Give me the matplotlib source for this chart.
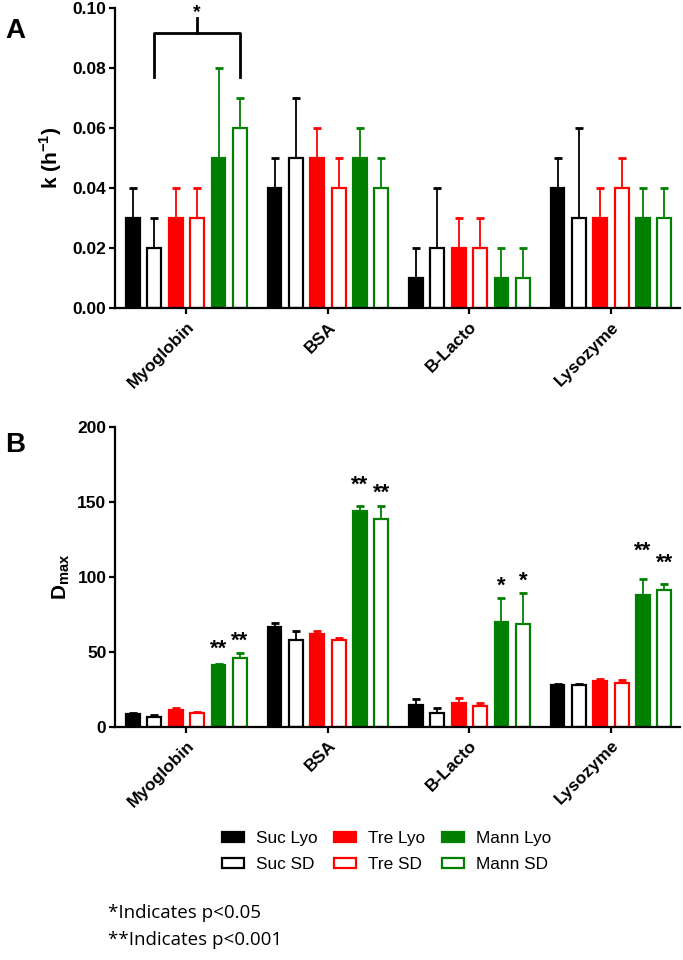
import matplotlib
matplotlib.use('Agg')
import matplotlib.pyplot as plt
from matplotlib.patches import Patch
import numpy as np

plt.rcParams['font.family'] = ['Liberation Sans Narrow', 'Liberation Sans', 'DejaVu Sans']
plt.rcParams['mathtext.fontset'] = 'custom'
plt.rcParams['mathtext.bf'] = 'Liberation Sans:bold'
plt.rcParams['mathtext.rm'] = 'Liberation Sans'

proteins = ['Myoglobin', 'BSA', 'B-Lacto', 'Lysozyme']
series = ['Suc Lyo', 'Suc SD', 'Tre Lyo', 'Tre SD', 'Mann Lyo', 'Mann SD']
colors = ['black', 'black', '#ff0000', '#ff0000', '#007f00', '#007f00']
filled = [True, False, True, False, True, False]

# panel A: k (h^-1), rows = proteins, cols = series
k_mean = [[0.03, 0.02, 0.03, 0.03, 0.05, 0.06],
          [0.04, 0.05, 0.05, 0.04, 0.05, 0.04],
          [0.01, 0.02, 0.02, 0.02, 0.01, 0.01],
          [0.04, 0.03, 0.03, 0.04, 0.03, 0.03]]
k_err = [[0.01, 0.01, 0.01, 0.01, 0.03, 0.01],
         [0.01, 0.02, 0.01, 0.01, 0.01, 0.01],
         [0.01, 0.02, 0.01, 0.01, 0.01, 0.01],
         [0.01, 0.03, 0.01, 0.01, 0.01, 0.01]]

# panel B: Dmax
d_mean = [[8.4, 6.2, 11.3, 8.9, 41.3, 46.2],
          [66.9, 57.6, 62.0, 57.6, 144.2, 138.9],
          [14.4, 9.3, 15.6, 13.6, 69.8, 68.7],
          [28.0, 27.8, 30.2, 28.9, 88.2, 91.3]]
d_err = [[0.6, 1.6, 0.9, 0.9, 0.7, 2.7],
         [2.2, 6.4, 1.6, 1.7, 3.4, 8.4],
         [4.0, 3.1, 3.7, 2.2, 16.4, 20.9],
         [0.3, 0.9, 1.6, 2.2, 10.7, 4.3]]

# significance marks in panel B: (protein, series, label, y)
d_stars = [(0, 4, '**', 52), (0, 5, '**', 57),
           (1, 4, '**', 161), (1, 5, '**', 156),
           (2, 4, '*', 94), (2, 5, '*', 97),
           (3, 4, '**', 117), (3, 5, '**', 109)]

pitch = 0.151
width = 0.098


def draw(ax, means, errs):
    for i in range(len(proteins)):
        for j in range(len(series)):
            x = i + (j - 2.5) * pitch
            face = colors[j] if filled[j] else 'white'
            ax.bar(x, means[i][j], width, color=face, edgecolor=colors[j],
                   linewidth=1.6, zorder=2)
            ax.errorbar(x, means[i][j], yerr=[[0], [errs[i][j]]], fmt='none',
                        ecolor=colors[j], elinewidth=1.3, capsize=3,
                        capthick=2, zorder=1)
    ax.set_xlim(-0.507, 3.49)
    ax.set_xticks(range(len(proteins)))
    ax.set_xticklabels(proteins, rotation=45, ha='right', rotation_mode='anchor',
                       fontsize=12, fontweight='bold', family='Liberation Sans')
    for s in ['top', 'right']:
        ax.spines[s].set_visible(False)
    for s in ['left', 'bottom']:
        ax.spines[s].set_linewidth(1.6)
    ax.tick_params(width=1.6, length=4, pad=2, labelsize=12.5)
    ax.tick_params(axis='x', pad=4)
    for lab in ax.get_yticklabels():
        lab.set_fontweight('bold')


fig = plt.figure(figsize=(6.83, 9.6), dpi=100)
axA = fig.add_axes([0.168, 0.679, 0.828, 0.313])
axB = fig.add_axes([0.168, 0.243, 0.828, 0.312])

draw(axA, k_mean, k_err)
axA.set_ylim(0, 0.10)
axA.set_yticks([0, 0.02, 0.04, 0.06, 0.08, 0.10])
axA.set_yticklabels(['0.00', '0.02', '0.04', '0.06', '0.08', '0.10'], fontweight='bold')
axA.set_ylabel('k (h$^{\\mathbf{-1}}$)', fontsize=15, fontweight='bold',
               family='Liberation Sans', labelpad=6)

# bracket Suc SD -> Mann SD on Myoglobin
x1 = 0 + (1 - 2.5) * pitch
x2 = 0 + (5 - 2.5) * pitch
axA.plot([x1, x1, x2, x2], [0.077, 0.0915, 0.0915, 0.077], color='black', lw=2,
         clip_on=False)
axA.plot([(x1 + x2) / 2] * 2, [0.0915, 0.0965], color='black', lw=2, clip_on=False)
axA.text((x1 + x2) / 2, 0.0968, '*', ha='center', va='baseline', fontsize=14,
         fontweight='bold', family='Liberation Sans')

draw(axB, d_mean, d_err)
axB.set_ylim(0, 200)
axB.set_yticks([0, 50, 100, 150, 200])
axB.set_ylabel('D$_{\\mathbf{max}}$', fontsize=15, fontweight='bold',
               family='Liberation Sans', labelpad=4)
for i, j, lab, y in d_stars:
    axB.text(i + (j - 2.5) * pitch, y, lab, ha='center', va='center',
             fontsize=16, fontweight='bold', family='Liberation Sans')

fig.text(0.008, 0.968, 'A', fontsize=20, fontweight='bold', va='center',
         family='Liberation Sans')
fig.text(0.008, 0.536, 'B', fontsize=20, fontweight='bold', va='center',
         family='Liberation Sans')

handles = [Patch(facecolor=colors[j] if filled[j] else 'white',
                 edgecolor=colors[j], linewidth=1.6, label=series[j])
           for j in range(len(series))]
fig.legend(handles=handles, ncol=3, loc='center', bbox_to_anchor=(0.566, 0.113),
           frameon=False, handlelength=1.3, handleheight=0.5,
           handletextpad=0.7, columnspacing=0.95, labelspacing=0.65,
           prop={'family': 'Liberation Sans', 'size': 12.4})

fig.text(0.158, 0.049, '*Indicates p<0.05', fontsize=13.5, family='Open Sans',
         va='center')
fig.text(0.158, 0.021, '**Indicates p<0.001', fontsize=13.5, family='Open Sans',
         va='center')

fig.savefig('out.png', dpi=100)
